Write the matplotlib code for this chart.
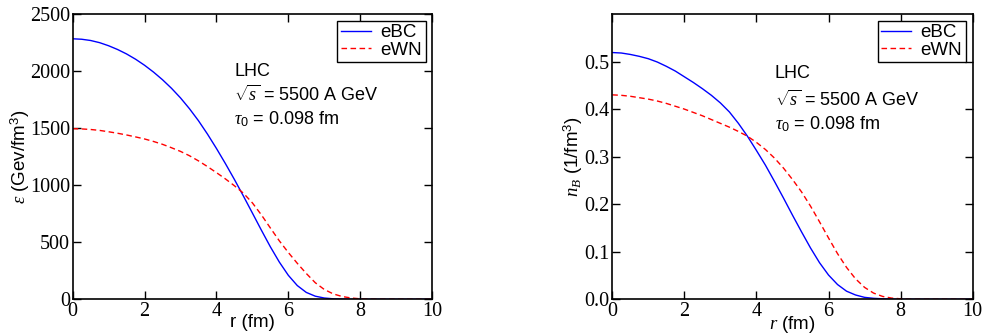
import numpy as np
import matplotlib
matplotlib.use('Agg')
import matplotlib.pyplot as plt

plt.rcParams['mathtext.fontset'] = 'custom'
plt.rcParams['mathtext.rm'] = 'Liberation Sans'
plt.rcParams['mathtext.it'] = 'Liberation Serif:italic'
plt.rcParams['mathtext.sf'] = 'Liberation Sans'

r = [0.0, 0.25, 0.5, 0.75, 1.0, 1.25, 1.5, 1.75, 2.0, 2.25, 2.5, 2.75, 3.0, 3.25,
     3.5, 3.75, 4.0, 4.25, 4.5, 4.75, 5.0, 5.25, 5.5, 5.75, 6.0, 6.25, 6.5, 6.75,
     7.0, 7.25, 7.5, 7.75, 8.0, 8.25, 10.0]

eps_ebc = [2283, 2279, 2268, 2249, 2222, 2189, 2150, 2104, 2051, 1991, 1924, 1849,
           1765, 1670, 1565, 1448, 1322, 1189, 1050, 905, 756, 606, 460, 326, 210,
           120, 60, 27, 11, 4, 1.5, 0.3, 0, 0, 0]
eps_ewn = [1495, 1493, 1488, 1480, 1468, 1455, 1440, 1423, 1405, 1383, 1358, 1328,
           1296, 1258, 1213, 1163, 1110, 1055, 995, 930, 845, 740, 625, 512, 410,
           315, 226, 145, 86, 47, 24, 11, 4, 0.5, 0]

nb_ebc = [0.519, 0.518, 0.515, 0.511, 0.506, 0.499, 0.490, 0.480, 0.468, 0.456,
          0.443, 0.429, 0.413, 0.394, 0.370, 0.343, 0.313, 0.282, 0.248, 0.213,
          0.177, 0.142, 0.108, 0.077, 0.051, 0.031, 0.017, 0.009, 0.004, 0.002,
          0.001, 0.0003, 0.0, 0.0, 0.0]
nb_ewn = [0.430, 0.429, 0.427, 0.424, 0.421, 0.417, 0.412, 0.406, 0.400, 0.393,
          0.386, 0.378, 0.370, 0.362, 0.353, 0.343, 0.330, 0.315, 0.297, 0.276,
          0.252, 0.226, 0.196, 0.163, 0.129, 0.096, 0.067, 0.043, 0.025, 0.013,
          0.006, 0.0025, 0.001, 0.0, 0.0]

xticks = [0, 2, 4, 6, 8, 10]
eps_ticks = [0, 500, 1000, 1500, 2000, 2500]
nb_ticks = [0.0, 0.1, 0.2, 0.3, 0.4, 0.5]
info = ['LHC', '$\\sqrt{s}$ = 5500 A GeV', '$\\tau_0$ = 0.098 fm']

sans = 'Liberation Sans'
serif = 'Liberation Serif'


def style_axes(ax):
    ax.tick_params(direction='in', top=True, right=True, length=6, width=1,
                   pad=2, labelsize=14.5)
    for lab in ax.get_xticklabels() + ax.get_yticklabels():
        lab.set_fontfamily(serif)
    for sp in ax.spines.values():
        sp.set_linewidth(1.2)


def draw_panel(ax, y1, y2, yticks, ylim, ylabel, xlabel, fmt, txt_pos, ylab_x):
    ax.plot(r, y1, color='#0000ff', lw=1.0, label='eBC')
    ax.plot(r, y2, color='#ff0000', lw=1.0, ls=(0, (4, 2.5)), label='eWN')
    ax.set_xlim(0, 10)
    ax.set_ylim(*ylim)
    ax.set_xticks(xticks)
    ax.set_yticks(yticks)
    ax.set_yticklabels([fmt.format(v) for v in yticks])
    style_axes(ax)
    ax.set_xlabel(xlabel, family=sans, fontsize=13.5)
    ax.xaxis.set_label_coords(0.5, -0.052)
    ax.set_ylabel(ylabel, family=sans, fontsize=13.5)
    ax.yaxis.set_label_coords(ylab_x, 0.5)
    leg = ax.legend(loc='upper right', frameon=True, fancybox=False,
                    edgecolor='black', framealpha=1, handlelength=1.6,
                    borderpad=0.2, labelspacing=0.0, handletextpad=0.5,
                    borderaxespad=0.35, prop={'family': sans, 'size': 13.5})
    leg.get_frame().set_linewidth(1.0)
    x0, ys = txt_pos
    for t, yy in zip(info, ys):
        ax.text(x0, yy, t, transform=ax.transAxes, family=sans, fontsize=13,
                va='center', ha='left')


fig = plt.figure(figsize=(9.82, 3.34), dpi=100)
ax1 = fig.add_axes([0.074, 0.104, 0.366, 0.854])
ax2 = fig.add_axes([0.6235, 0.104, 0.367, 0.854])

draw_panel(ax1, eps_ebc, eps_ewn, eps_ticks, (0, 2500),
           '$\\epsilon$ (Gev/fm$^3$)', 'r (fm)', '{:d}',
           (0.45, [0.80, 0.715, 0.632]), -0.113)
draw_panel(ax2, nb_ebc, nb_ewn, nb_ticks, (0, 0.6),
           '$n_B$ (1/fm$^3$)', '$r$ (fm)', '{:.1f}',
           (0.451, [0.792, 0.70, 0.614]), -0.077)

fig.savefig('out.png', dpi=100)
